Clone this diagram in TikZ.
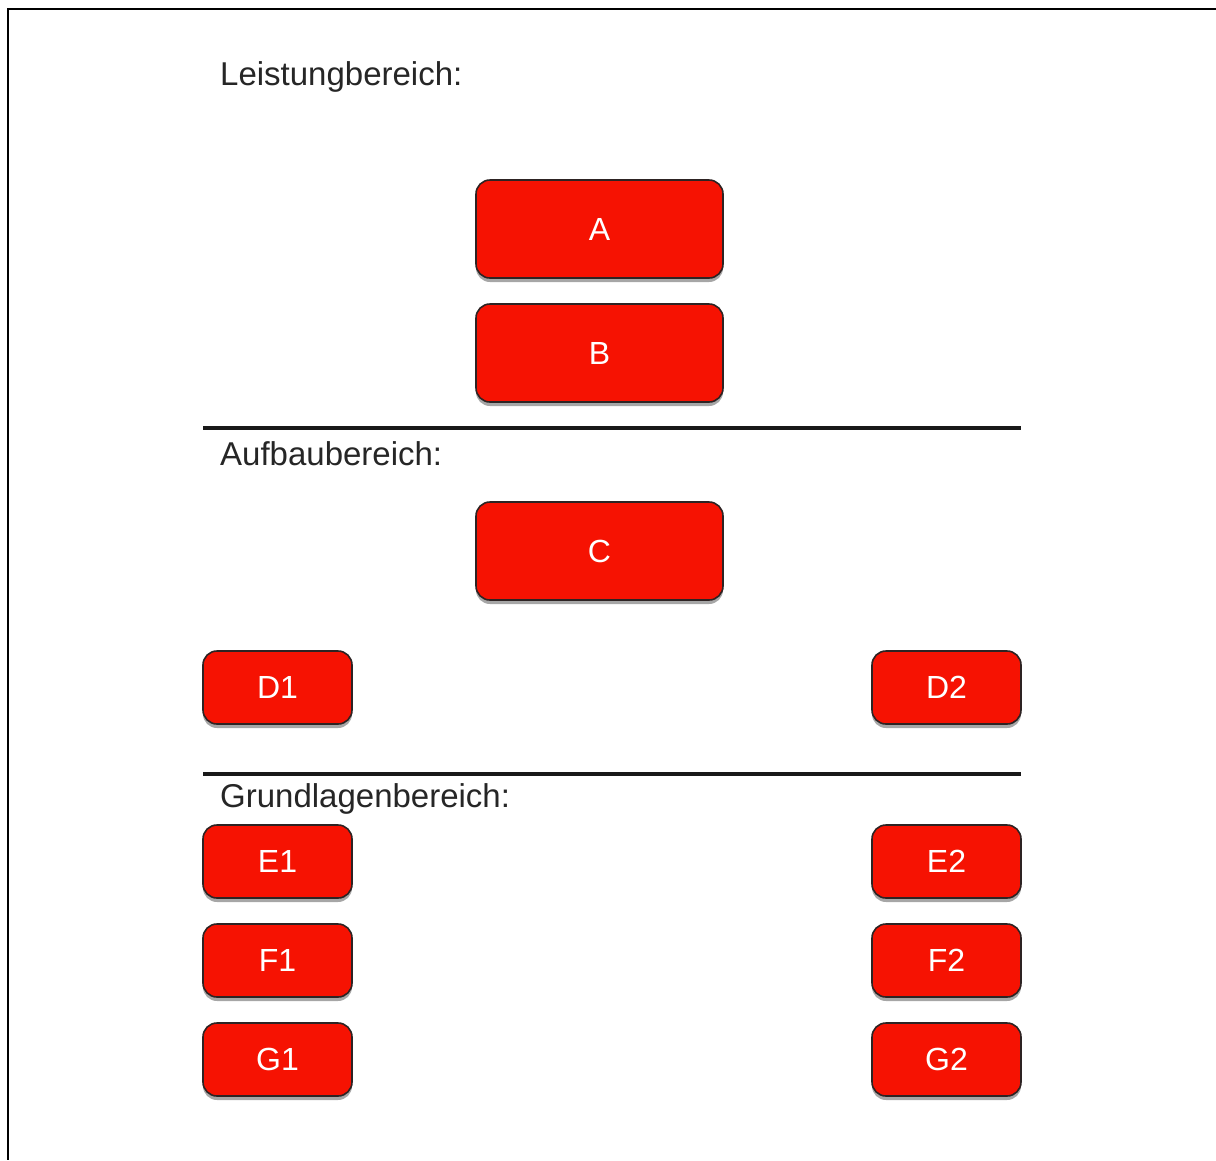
\documentclass[tikz,border=0pt]{standalone}
\usepackage{fontspec}
\setmainfont{Liberation Sans}
\usetikzlibrary{shadows}
\definecolor{boxred}{RGB}{246,18,2}
\definecolor{boxline}{RGB}{45,35,35}
\tikzset{
  rbox/.style={draw=boxline, line width=1.6pt, fill=boxred, rounded corners=14pt,
    text=white, font=\fontsize{32}{36}\selectfont, inner sep=0pt,
    drop shadow={shadow xshift=0pt, shadow yshift=-4pt, opacity=0.35, fill=black}},
  bigbox/.style={rbox, minimum width=247pt, minimum height=98pt},
  smallbox/.style={rbox, minimum width=149pt, minimum height=73pt},
  heading/.style={anchor=base west, inner sep=0pt, font=\fontsize{33}{38}\selectfont, text=black!85},
  divider/.style={line width=3.5pt, black!90},
  frame/.style={line width=2.5pt, black}
}
\begin{document}
\begin{tikzpicture}[x=1pt,y=-1pt]
\useasboundingbox (0,0) rectangle (1216,1160);
\fill[white] (0,0) rectangle (1216,1160);
% frame (top and left edges)
\coordinate (fTR) at (1216,9);
\coordinate (fTL) at (8,9);
\coordinate (fBL) at (8,1160);
\draw[frame] (fTR) -- (fTL) -- (fBL);

% headings
\node[heading] (h1) at (220,85) {Leistungbereich:};
\node[heading] (h2) at (220,465) {Aufbaubereich:};
\node[heading] (h3) at (220,807) {Grundlagenbereich:};

% dividers
\coordinate (l1a) at (203,428);
\coordinate (l1b) at (1021,428);
\coordinate (l2a) at (203,774);
\coordinate (l2b) at (1021,774);
\draw[divider] (l1a) -- (l1b);
\draw[divider] (l2a) -- (l2b);

% boxes
\node[bigbox] (A) at (599.5,229) {A};
\node[bigbox] (B) at (599.5,353) {B};
\node[bigbox] (C) at (599.5,551) {C};
\node[smallbox] (D1) at (277.5,687.5) {D1};
\node[smallbox] (D2) at (946.5,687.5) {D2};
\node[smallbox] (E1) at (277.5,861.5) {E1};
\node[smallbox] (E2) at (946.5,861.5) {E2};
\node[smallbox] (F1) at (277.5,960.5) {F1};
\node[smallbox] (F2) at (946.5,960.5) {F2};
\node[smallbox] (G1) at (277.5,1059.5) {G1};
\node[smallbox] (G2) at (946.5,1059.5) {G2};
\end{tikzpicture}
\end{document}
